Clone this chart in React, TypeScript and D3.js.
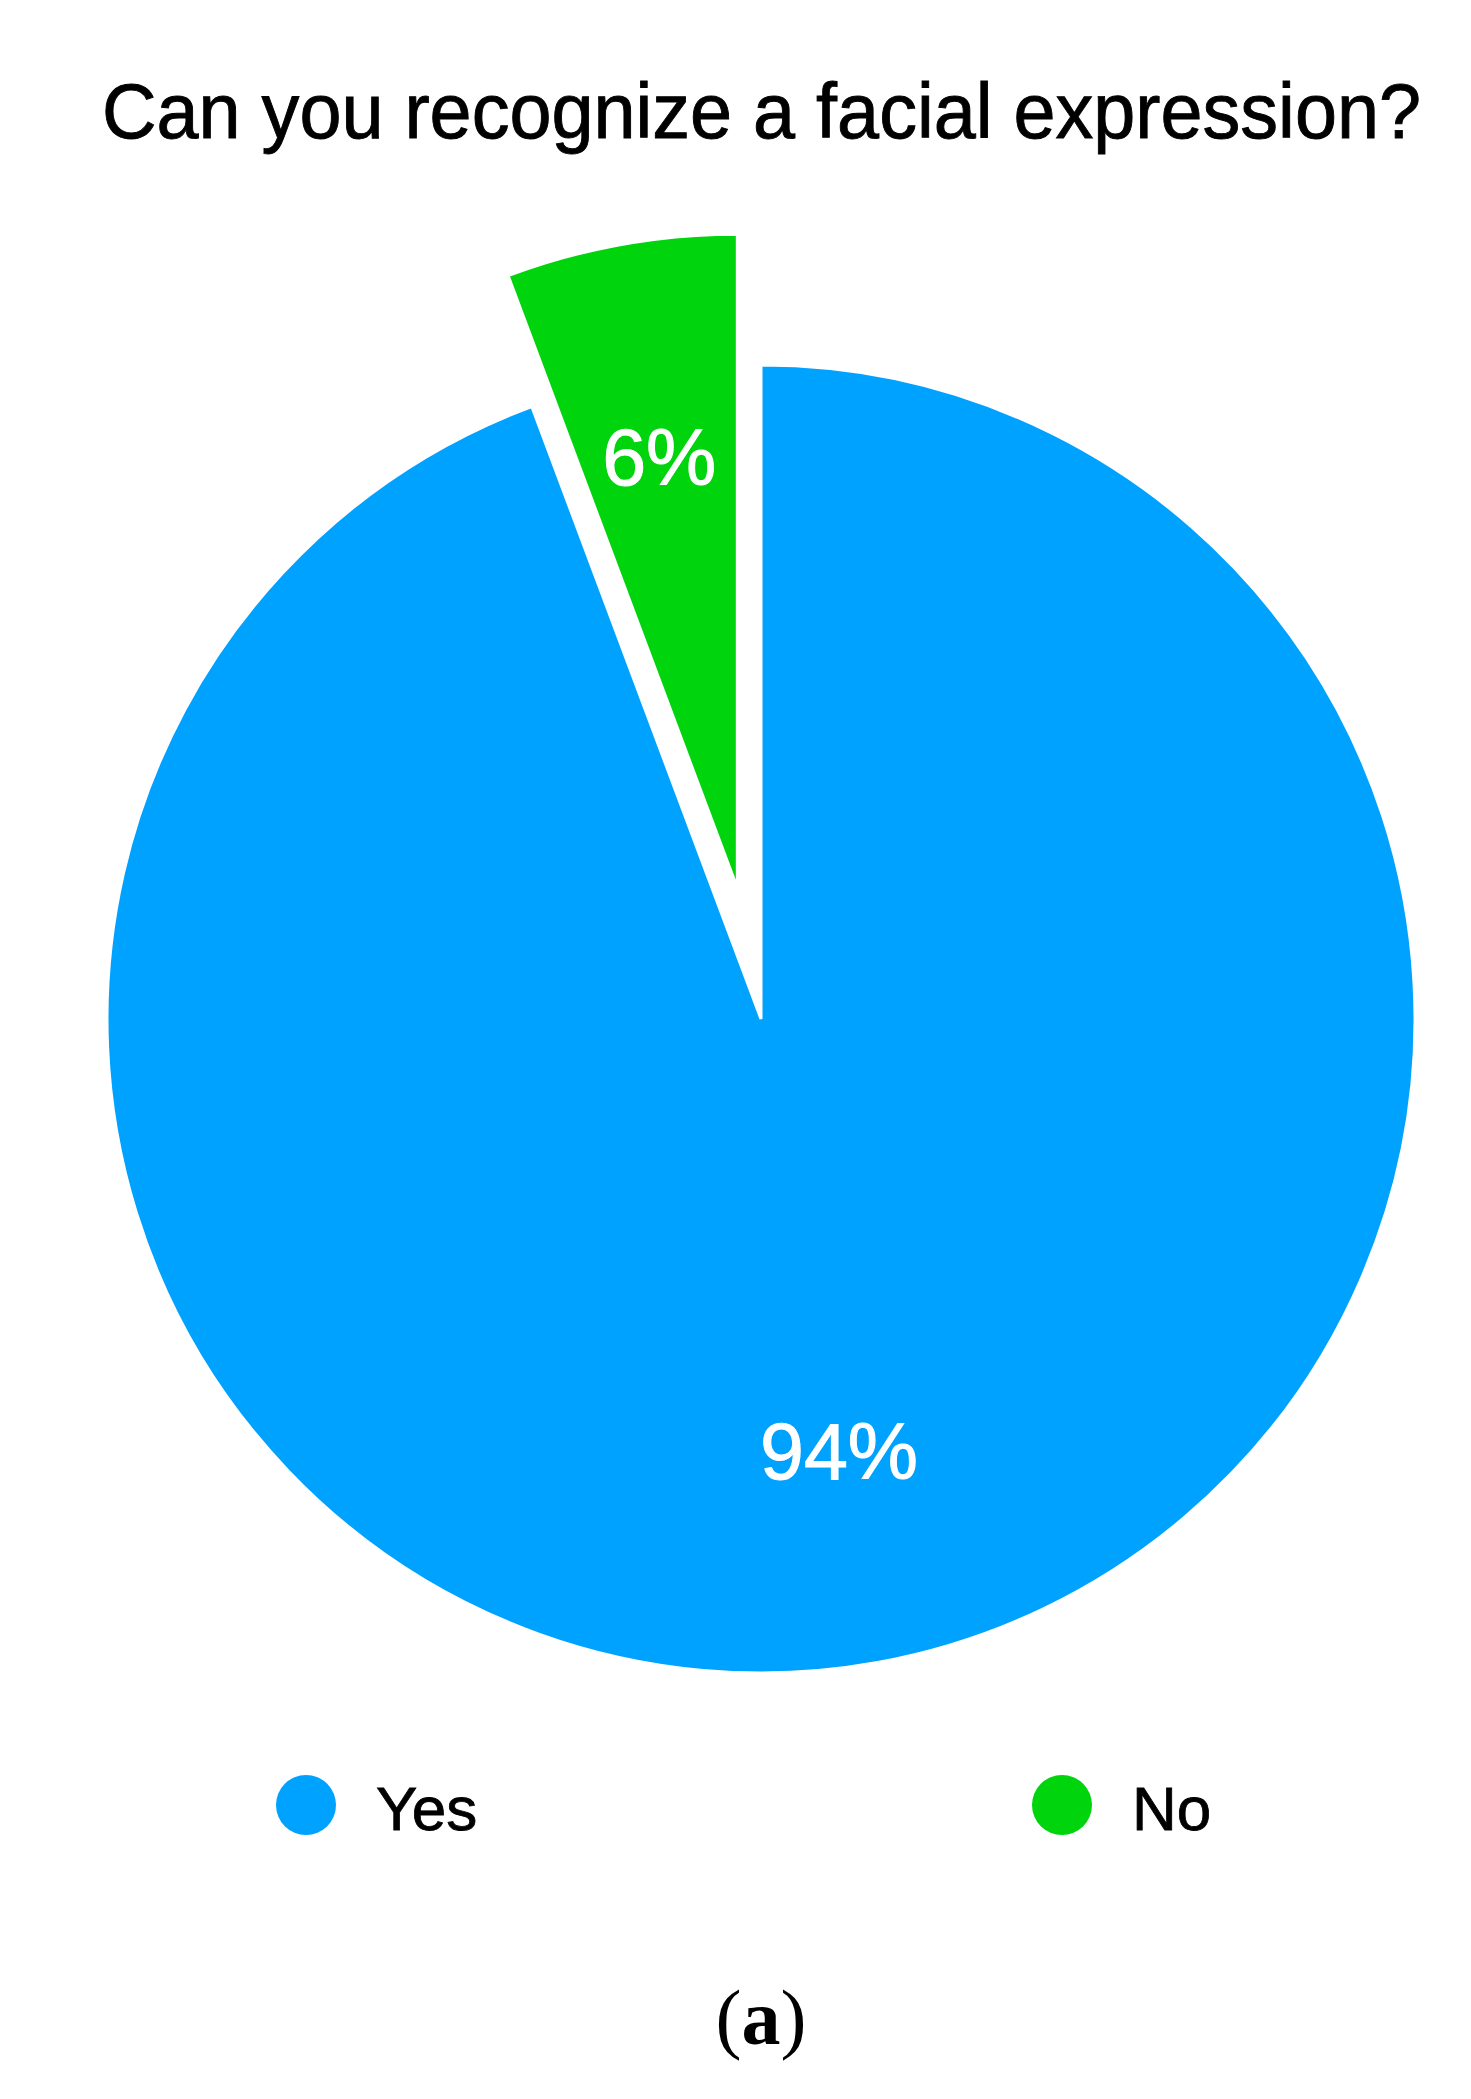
import React from 'react';
import * as d3 from 'd3';

// survey answers (shares, in percent)
const categories = ['Yes', 'No'];
const values = [94.3, 5.7];
const colors = ['#00A2FF', '#00D40C'];
const explode = [0, 133];

const title = 'Can you recognize a facial expression?';
const caption = 'a';

export default function App() {
  const width = 1471;
  const height = 2099;
  const cx = 761;
  const cy = 1019;
  const radius = 654;

  const pie = d3
    .pie<number>()
    .sort(null)
    .value((d) => d)
    .startAngle(0)
    .endAngle(2 * Math.PI);

  const arcs = pie(values);

  const arcGen = d3
    .arc<d3.PieArcDatum<number>>()
    .innerRadius(0)
    .outerRadius(radius);

  const labelArc = d3
    .arc<d3.PieArcDatum<number>>()
    .innerRadius(radius * 0.67)
    .outerRadius(radius * 0.67);

  const total = d3.sum(values);

  // legend positions
  const legendX = d3.scalePoint<string>().domain(categories).range([306, 1062]);
  const legendY = 1805;

  return (
    <svg
      width={width}
      height={height}
      style={{ position: 'absolute', left: 0, top: 0, background: '#fff' }}
    >
      <text
        x={102}
        y={138}
        fontFamily="Liberation Sans, Arial, sans-serif"
        fontSize={77}
        textLength={1319}
        lengthAdjust="spacingAndGlyphs"
        fill="#000"
        stroke="#000"
        strokeWidth={0.9}
      >
        {title}
      </text>

      <g transform={`translate(${cx},${cy})`}>
        {arcs.map((a, i) => {
          const mid = (a.startAngle + a.endAngle) / 2;
          const dx = Math.sin(mid) * explode[i];
          const dy = -Math.cos(mid) * explode[i];
          const [lx, ly] = labelArc.centroid(a);
          return (
            <g key={categories[i]} transform={`translate(${dx},${dy})`}>
              <path
                d={arcGen(a) || ''}
                fill={colors[i]}
                stroke="#fff"
                strokeWidth={3}
                strokeLinejoin="miter"
              />
              <text
                x={lx}
                y={ly}
                dy="0.36em"
                textAnchor="middle"
                fontFamily="Liberation Sans, Arial, sans-serif"
                fontSize={79}
                fill="#fff"
                stroke="#fff"
                strokeWidth={1}
              >
                {Math.round((values[i] / total) * 100) + '%'}
              </text>
            </g>
          );
        })}
      </g>

      {categories.map((c, i) => (
        <g key={c} transform={`translate(${legendX(c)},${legendY})`}>
          <circle r={30} fill={colors[i]} />
          <text
            x={70}
            y={25}
            fontFamily="Liberation Sans, Arial, sans-serif"
            fontSize={62}
            fill="#000"
            stroke="#000"
            strokeWidth={0.8}
          >
            {c}
          </text>
        </g>
      ))}

      <text
        x={761}
        y={2044}
        textAnchor="middle"
        fontFamily="Liberation Serif, Times New Roman, serif"
        fontSize={78}
        fill="#000"
      >
        (<tspan fontWeight="bold">{caption}</tspan>)
      </text>
    </svg>
  );
}
